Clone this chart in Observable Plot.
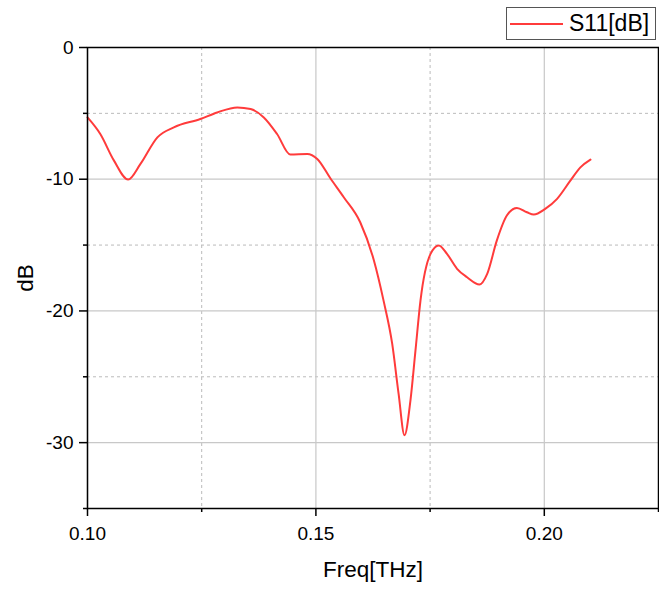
<!DOCTYPE html>
<html>
<head>
<meta charset="utf-8">
<script src="https://cdn.jsdelivr.net/npm/d3@7"></script>
<script src="https://cdn.jsdelivr.net/npm/@observablehq/plot@0.6"></script>
<style>
  body { margin: 0; background: #fff; font-family: "Liberation Sans", Arial, sans-serif; }
  #wrap { position: relative; width: 659px; height: 590px; }
  #legend { position: absolute; left: 506px; top: 7px; width: 150px; height: 33px; border: 1px solid #555;
            background: #fff; box-sizing: border-box; display: flex; align-items: center; white-space: nowrap; }
  #legend span { font-size: 23px; color: #000; margin-left: 5px; }
</style>
</head>
<body>
<div id="wrap"></div>
<script>
const freq = [0.1000,0.1028,0.1058,0.1089,0.1116,0.1153,0.1189,0.1247,0.1284,0.1328,0.1357,0.1386,0.1415,0.1444,0.1481,0.1503,0.1532,0.1561,0.1597,0.1627,0.1648,0.1667,0.1681,0.1694,0.1707,0.1718,0.1729,0.1751,0.1769,0.1787,0.1809,0.1831,0.1858,0.1875,0.1896,0.1918,0.1940,0.1962,0.1977,0.2002,0.2028,0.2057,0.2079,0.2101];
const s11 = [-5.31,-6.57,-8.59,-10.03,-8.84,-6.82,-6.06,-5.43,-4.93,-4.55,-4.67,-5.31,-6.57,-8.13,-8.08,-8.46,-9.95,-11.37,-13.27,-16.17,-19.2,-22.49,-26.28,-29.44,-26.79,-23.0,-19.2,-15.67,-15.03,-15.67,-16.8,-17.44,-17.99,-17.18,-14.66,-12.76,-12.18,-12.51,-12.68,-12.25,-11.49,-10.11,-9.10,-8.51];
const xMajor = [0.10, 0.15, 0.20];
const xMinor = [0.125, 0.175, 0.225];
const yMajor = [0, -10, -20, -30];
const yMinor = [-5, -15, -25, -35];
const seriesName = "S11[dB]";
const lineColor = "#ff3b3b";

const data = freq.map((f, i) => ({f, v: s11[i]}));

const chart = Plot.plot({
  width: 659,
  height: 590,
  marginLeft: 87,
  marginTop: 47,
  marginRight: 1,
  marginBottom: 82,
  style: {fontFamily: "'Liberation Sans', Arial, sans-serif", fontSize: "19px", color: "#000", background: "#fff"},
  x: {domain: [0.10, 0.225]},
  y: {domain: [-35, 0]},
  marks: [
    Plot.gridX(xMinor, {stroke: "#bbb", strokeOpacity: 1, strokeDasharray: "3,3", strokeWidth: 1}),
    Plot.gridY(yMinor, {stroke: "#bbb", strokeOpacity: 1, strokeDasharray: "3,3", strokeWidth: 1}),
    Plot.gridX(xMajor, {stroke: "#c8c8c8", strokeOpacity: 1, strokeWidth: 1.2}),
    Plot.gridY(yMajor, {stroke: "#c8c8c8", strokeOpacity: 1, strokeWidth: 1.2}),
    Plot.axisX(xMajor, {tickSize: 8, tickPadding: 10, tickFormat: d3.format(".2f"), strokeWidth: 1.5,
      label: "Freq[THz]", labelAnchor: "center", labelOffset: 68, labelArrow: "none", fontSize: 19}),
    Plot.axisX(xMinor, {tickSize: 4, tickFormat: null, text: null, label: null, strokeWidth: 1.5}),
    Plot.axisY(yMajor, {tickSize: 8, tickPadding: 6, tickFormat: d => String(d), strokeWidth: 1.5,
      label: "dB", labelAnchor: "center", labelOffset: 70, labelArrow: "none", fontSize: 19}),
    Plot.axisY(yMinor, {tickSize: 4, tickFormat: null, text: null, label: null, strokeWidth: 1.5}),
    Plot.line(data, {x: "f", y: "v", stroke: lineColor, strokeWidth: 2, curve: "monotone-x"}),
    Plot.frame({stroke: "#000", strokeWidth: 1.5})
  ]
});
document.getElementById("wrap").appendChild(chart);
d3.select(chart).selectAll("g[aria-label='x-axis label'] text, g[aria-label='y-axis label'] text").style("font-size", "22.5px");

const legend = document.createElement("div");
legend.id = "legend";
legend.innerHTML = `<svg width="54" height="10" style="margin-left:3px;flex:none"><line x1="0" x2="53" y1="5" y2="5" stroke="${lineColor}" stroke-width="2"/></svg><span>${seriesName}</span>`;
document.getElementById("wrap").appendChild(legend);
</script>
</body>
</html>
